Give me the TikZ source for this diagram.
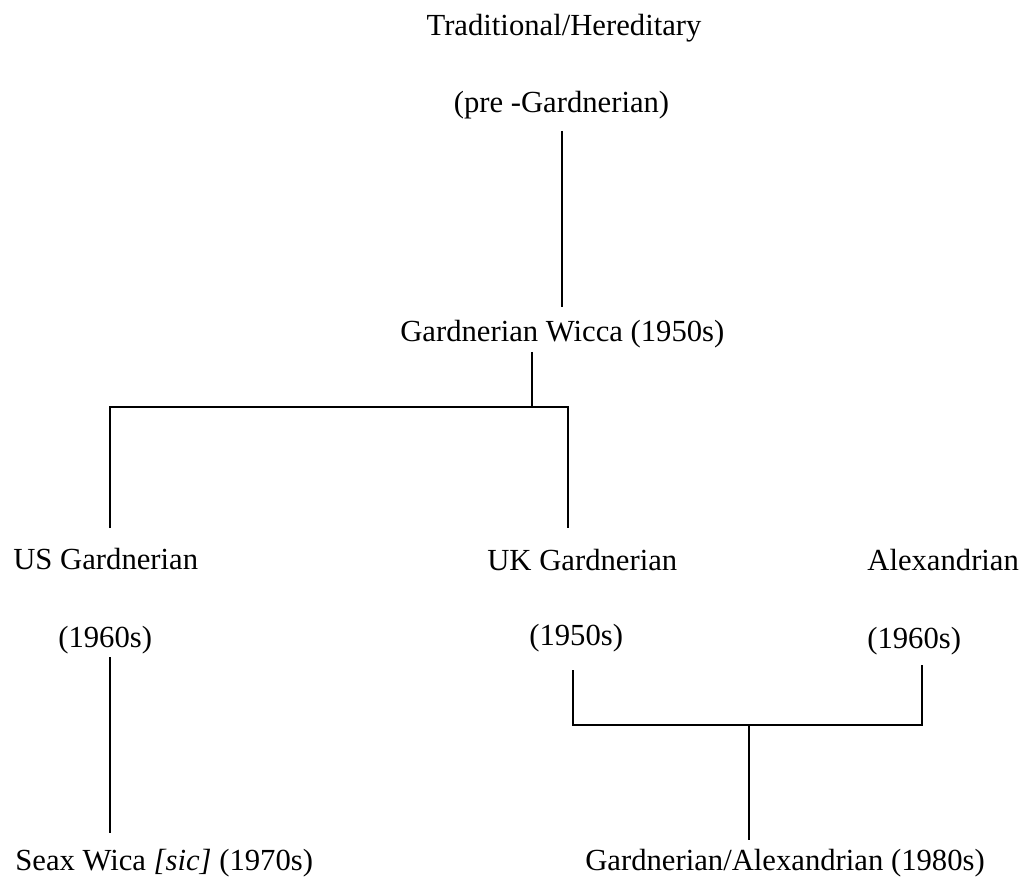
\documentclass[tikz,border=0pt]{standalone}
\usepackage{fontspec}
\setmainfont{Liberation Serif}
\usepackage{tikz}

\begin{document}
\begin{tikzpicture}[every node/.style={font=\fontsize{17.45}{21}\selectfont,inner sep=0pt},
  link/.style={line width=1.1pt,black}]
  \useasboundingbox (0,0) rectangle (20.52,17.54);
  \node[anchor=base] (trad) at (11.28,16.82) {Traditional/Hereditary};
  \node[anchor=base] (pre) at (11.23,15.28) {(pre -Gardnerian)};
  \node[anchor=base west] (gw) at (8.00,10.70) {Gardnerian Wicca (1950s)};
  \node[anchor=base west] (us) at (0.26,6.16) {US Gardnerian};
  \node[anchor=base west] (uk) at (9.74,6.14) {UK Gardnerian};
  \node[anchor=base west] (alex) at (17.34,6.14) {Alexandrian};
  \node[anchor=base west] (usdate) at (1.16,4.60) {(1960s)};
  \node[anchor=base west] (ukdate) at (10.58,4.64) {(1950s)};
  \node[anchor=base west] (alexdate) at (17.34,4.58) {(1960s)};
  \node[anchor=base west] (seax) at (0.30,0.14) {Seax Wica \textit{[sic]} (1970s)};
  \node[anchor=base west] (ga) at (11.70,0.14) {Gardnerian/Alexandrian (1980s)};
  \coordinate (preout) at (11.24,14.92);
  \coordinate (gwin) at (11.24,11.40);
  \coordinate (gwout) at (10.64,10.50);
  \coordinate (split) at (10.64,9.40);
  \coordinate (usjoin) at (2.20,9.40);
  \coordinate (ukjoin) at (11.36,9.40);
  \coordinate (usin) at (2.20,6.98);
  \coordinate (ukin) at (11.36,6.98);
  \coordinate (usout) at (2.20,4.40);
  \coordinate (seaxin) at (2.20,0.88);
  \coordinate (ukout) at (11.46,4.14);
  \coordinate (alexout) at (18.44,4.24);
  \coordinate (ukmerge) at (11.46,3.04);
  \coordinate (alexmerge) at (18.44,3.04);
  \coordinate (merge) at (14.98,3.04);
  \coordinate (gain) at (14.98,0.74);
  \draw[link] (preout) -- (gwin);
  \draw[link] (gwout) -- (split);
  \draw[link] (usin) -- (usjoin) -- (ukjoin) -- (ukin);
  \draw[link] (usout) -- (seaxin);
  \draw[link] (ukout) -- (ukmerge) -- (alexmerge) -- (alexout);
  \draw[link] (merge) -- (gain);
\end{tikzpicture}
\end{document}
